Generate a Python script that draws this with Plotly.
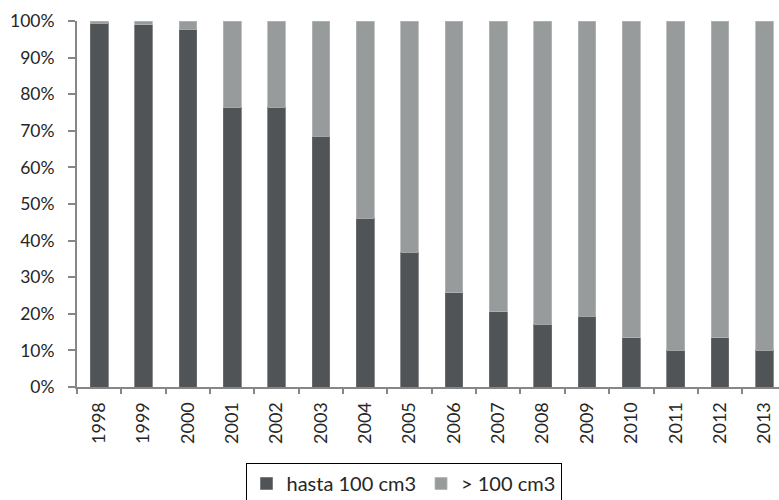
import plotly.graph_objects as go

# Share of registrations by engine size, 1998-2013
years = ["1998", "1999", "2000", "2001", "2002", "2003", "2004", "2005",
         "2006", "2007", "2008", "2009", "2010", "2011", "2012", "2013"]
hasta_100 = [99.4, 99.0, 97.8, 76.5, 76.5, 68.5, 46.1, 36.8,
             25.8, 20.5, 17.2, 19.4, 13.4, 10.1, 13.4, 10.1]
mas_100 = [round(100 - v, 1) for v in hasta_100]

y_ticks = [0, 10, 20, 30, 40, 50, 60, 70, 80, 90, 100]
y_tick_text = [f"{t}%" for t in y_ticks]

DARK = "#505457"
LIGHT = "#989b9b"
AXIS = "#868686"
FONT = "Lato"

fig = go.Figure()
fig.add_trace(go.Bar(
    x=years, y=hasta_100, name="hasta 100 cm3",
    marker=dict(color=DARK, line=dict(color="#6e7173", width=0.8)),
))
fig.add_trace(go.Bar(
    x=years, y=mas_100, name="> 100 cm3",
    marker=dict(color=LIGHT, line=dict(color="#b3b5b5", width=0.8)),
))

W, H = 779, 500
ML, MR, MT, MB = 77, 0, 21, 113
plot_w = W - ML - MR
plot_h = H - MT - MB

fig.update_layout(
    width=W, height=H,
    barmode="stack",
    bargap=0.6,
    plot_bgcolor="white",
    paper_bgcolor="white",
    margin=dict(l=ML, r=MR, t=MT, b=MB, pad=0, autoexpand=False),
    font=dict(family=FONT, size=16, color="#262626"),
    showlegend=True,
    legend=dict(
        orientation="h",
        x=(403.5 - ML) / plot_w, xanchor="center",
        y=-(463 - (MT + plot_h)) / plot_h, yanchor="top",
        bordercolor="#000000", borderwidth=1,
        bgcolor="white",
        font=dict(family=FONT, size=20, color="#262626"),
        itemwidth=30,
        traceorder="normal",
    ),
    xaxis=dict(
        type="category",
        range=[-0.5, 15.33],
        showline=True, linecolor=AXIS, linewidth=2,
        ticks="outside", tickson="boundaries", ticklen=5,
        tickcolor=AXIS, tickwidth=1.5,
        tickangle=-90,
        ticklabelstandoff=6,
        automargin=False,
        tickfont=dict(family=FONT, size=18, color="#262626"),
        showgrid=False, zeroline=False,
    ),
    yaxis=dict(
        range=[0, 100],
        tickvals=y_ticks, ticktext=y_tick_text,
        showline=True, linecolor=AXIS, linewidth=2,
        ticks="outside", ticklen=7, tickcolor=AXIS, tickwidth=1.5,
        ticklabelstandoff=10,
        automargin=False,
        tickfont=dict(family=FONT, size=17.5, color="#262626"),
        showgrid=False, zeroline=False,
    ),
)

fig.write_html("out.html")
